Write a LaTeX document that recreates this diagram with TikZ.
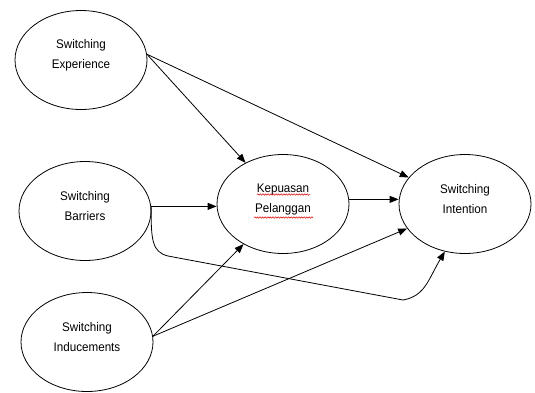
\documentclass[tikz,border=0pt]{standalone}
\usepackage{fontspec}
\setmainfont{Liberation Sans}[FakeStretch=0.93]
\usetikzlibrary{arrows.meta,decorations.pathmorphing,shapes.geometric}
\begin{document}
\begin{tikzpicture}[x=1pt,y=-1pt,
  construct/.style={draw,line width=0.8pt,ellipse,minimum width=132pt,minimum height=99pt,inner sep=0pt,
    label={[yshift=5pt,align=center,font=\fontsize{12.5}{20}\selectfont]center:#1}},
  link/.style={draw,line width=0.8pt,-{Triangle[length=9pt,width=7pt]}},
  spell/.style={draw=red!85!black,line width=0.5pt,decorate,
    decoration={snake,amplitude=0.7pt,segment length=2.6pt}}]
\useasboundingbox (0,0) rectangle (535,392);
\node[construct={Switching\\Experience}] (exp) at (81,60) {};
\node[construct={Switching\\Barriers}] (bar) at (85,211) {};
\node[construct={Switching\\Inducements}] (ind) at (87,342) {};
\node[construct={Kepuasan\\Pelanggan}] (kep) at (283,204) {};
\node[construct={Switching\\Intention}] (int) at (465,204) {};
% spell-check marks under the Indonesian words
\draw[spell] (257,194.5) -- (310,194.5);
\draw[spell] (254,217.5) -- (313,217.5);
% paths of influence
\draw[link] (exp.5) -- (kep);
\draw[link] (exp.5) -- (int);
\draw[link] (bar.4) -- (bar.4 -| kep.west);
\draw[link] (kep.4) -- (kep.4 -| int.west);
\draw[link] (ind.5) -- (kep);
\draw[link] (ind.5) -- (int);
\coordinate (bend1) at (168,256);
\coordinate (bend2) at (403,300);
\draw[link] (bar.4) .. controls (151,240) and (152,252) .. (bend1)
  -- (bend2) .. controls (425,296) and (428,280) .. (int.-113);
\end{tikzpicture}
\end{document}
